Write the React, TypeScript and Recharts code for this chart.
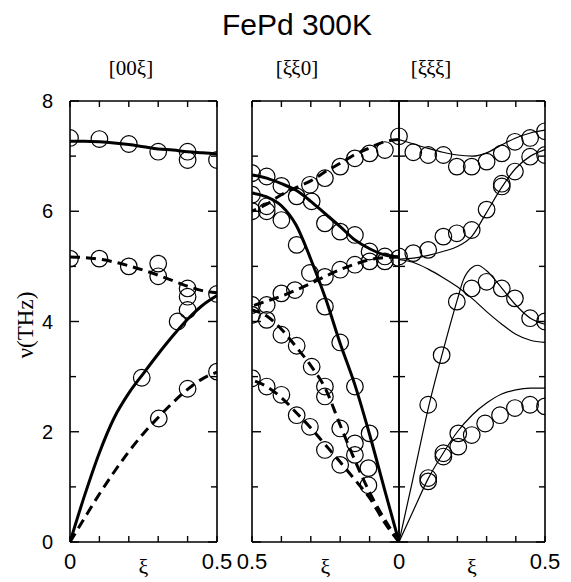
import React from 'react';
import { ComposedChart, Line, Scatter, XAxis, YAxis } from 'recharts';

// ---------- data ----------
const XI = [0, 0.05, 0.1, 0.15, 0.2, 0.25, 0.3, 0.35, 0.4, 0.45, 0.5];
const XI_PEAK = [0, 0.05, 0.1, 0.15, 0.2, 0.22, 0.25, 0.27, 0.3, 0.35, 0.4, 0.45, 0.5];

// [00ξ]
const p1Opt = [7.27, 7.27, 7.26, 7.24, 7.21, 7.17, 7.13, 7.11, 7.08, 7.06, 7.04];
const p1OptDash = [5.17, 5.16, 5.13, 5.08, 5.01, 4.93, 4.84, 4.74, 4.64, 4.56, 4.52];
const p1LA = [0, 0.85, 1.62, 2.25, 2.7, 3.06, 3.41, 3.74, 4.04, 4.29, 4.47];
const p1TA = [0, 0.44, 0.87, 1.27, 1.64, 1.97, 2.26, 2.53, 2.77, 2.96, 3.08];
const p1Circles = [
  [0, 7.33], [0.1, 7.31], [0.2, 7.22], [0.3, 7.08], [0.4, 7.08], [0.4, 6.93], [0.5, 6.93],
  [0, 5.14], [0.1, 5.14], [0.2, 5.0], [0.3, 5.05], [0.3, 4.82], [0.4, 4.6], [0.4, 4.45], [0.5, 4.5],
  [0.244, 2.98], [0.366, 4.0], [0.4, 4.21], [0.302, 2.24], [0.4, 2.78], [0.5, 3.09],
];

// [ξξ0]
const p2OptDash = [7.3, 7.26, 7.15, 7.03, 6.87, 6.72, 6.55, 6.43, 6.3, 6.13, 6.0];
const p2Opt = [5.17, 5.21, 5.32, 5.48, 5.72, 5.95, 6.18, 6.38, 6.5, 6.6, 6.66];
const p2LA = [0, 0.97, 1.95, 2.85, 3.6, 4.42, 5.13, 5.75, 6.1, 6.26, 6.33];
const p2MidDash = [5.17, 5.16, 5.12, 5.04, 4.94, 4.82, 4.69, 4.57, 4.46, 4.37, 4.28];
const p2TA1 = [0, 0.42, 0.9, 1.48, 2.12, 2.78, 3.2, 3.54, 3.86, 4.1, 4.21];
const p2TA2 = [0, 0.36, 0.8, 1.13, 1.45, 1.76, 2.07, 2.35, 2.62, 2.82, 2.94];
const p2Circles = [
  [0.5, 6.69], [0.5, 6.3], [0.5, 6.0], [0.45, 6.63], [0.45, 6.09], [0.45, 6.0], [0.4, 6.46], [0.4, 5.84],
  [0.348, 6.27], [0.348, 5.39], [0.303, 6.48], [0.297, 6.18], [0.252, 6.6], [0.252, 5.78], [0.2, 6.81],
  [0.2, 5.63], [0.15, 6.96], [0.15, 5.57], [0.1, 7.05], [0.1, 5.27], [0.1, 5.09], [0.048, 7.11],
  [0.048, 5.18], [0.048, 5.09], [0, 7.36], [0, 5.15],
  [0.5, 4.3], [0.45, 4.3], [0.4, 4.51], [0.354, 4.57], [0.303, 4.88], [0.252, 4.81], [0.2, 4.94],
  [0.15, 5.03], [0.252, 4.27],
  [0.5, 4.12], [0.45, 4.03], [0.4, 3.76], [0.348, 3.56], [0.297, 3.18], [0.252, 2.82], [0.252, 2.64],
  [0.2, 3.62], [0.15, 2.82], [0.2, 2.06], [0.15, 1.79], [0.15, 1.58], [0.1, 1.97], [0.104, 1.34],
  [0.104, 1.03],
  [0.5, 2.97], [0.45, 2.82], [0.4, 2.67], [0.348, 2.3], [0.303, 2.09], [0.252, 1.67], [0.2, 1.4],
];

// [ξξξ]
const p3A = [7.3, 7.22, 7.14, 7.07, 7.02, 7.0, 7.06, 7.2, 7.33, 7.42, 7.47];
const p3B = [5.13, 5.15, 5.2, 5.27, 5.36, 5.55, 5.98, 6.42, 6.78, 7.0, 7.12];
const p3C = [5.12, 5.07, 4.95, 4.8, 4.63, 4.42, 4.18, 3.96, 3.77, 3.66, 3.62];
const p3D = [0, 1.2, 2.42, 3.45, 4.4, 4.75, 4.98, 5.02, 4.92, 4.62, 4.3, 4.06, 3.95];
const p3E = [0, 0.58, 1.15, 1.6, 2.0, 2.3, 2.52, 2.68, 2.76, 2.79, 2.79];
const p3Circles = [
  [0, 7.36], [0.049, 7.07], [0.1, 7.02], [0.152, 7.02], [0.198, 6.81], [0.249, 6.81], [0.3, 6.9],
  [0.352, 7.05], [0.397, 7.26], [0.449, 7.33], [0.5, 7.45], [0.5, 7.02], [0.449, 6.99], [0.397, 6.72],
  [0.352, 6.45], [0.352, 6.5], [0.3, 6.03], [0.249, 5.66], [0.198, 5.6], [0.152, 5.54], [0.1, 5.3],
  [0.049, 5.24], [0, 5.18],
  [0.249, 4.6], [0.3, 4.72], [0.352, 4.6], [0.397, 4.42], [0.449, 4.06], [0.5, 4.0], [0.198, 4.36],
  [0.146, 3.39], [0.1, 2.49],
  [0.1, 1.16], [0.1, 1.1], [0.152, 1.61], [0.152, 1.55], [0.203, 1.97], [0.203, 1.73], [0.249, 1.94],
  [0.295, 2.15], [0.346, 2.3], [0.397, 2.43], [0.449, 2.49], [0.5, 2.46],
];

const Y_TICKS = [0, 1, 2, 3, 4, 5, 6, 7, 8];
const Y_LABELS: Record<string, string> = { '0': '0', '2': '2', '4': '4', '6': '6', '8': '8' };
const X_TICKS = [0, 0.1, 0.2, 0.25, 0.3, 0.4, 0.5];
const X_LABELS_1: Record<string, string> = { '0': '0', '0.25': 'ξ', '0.5': '0.5' };
const X_LABELS_2: Record<string, string> = { '0': '0', '0.25': 'ξ', '0.5': '0.5' };
const X_LABELS_3: Record<string, string> = { '0.25': 'ξ', '0.5': '0.5' };

const TITLE = 'FePd 300K';
const PANEL_TITLES = ['[00ξ]', '[ξξ0]', '[ξξξ]'];
const Y_TITLE = 'ν(THz)';

// ---------- helpers ----------
type Pt = { x: number; y: number };
const toPts = (xs: number[], ys: number[]): Pt[] => xs.map((x, i) => ({ x, y: ys[i] }));
const toCirc = (pairs: number[][]): Pt[] => pairs.map(([x, y]) => ({ x, y }));

const SANS = '"Liberation Sans", Arial, Helvetica, sans-serif';
const SERIF = '"Liberation Serif", "Times New Roman", serif';
const INK = '#000';

const bottomTick = (labels: Record<string, string>) => (p: any) => {
  const { x, y, payload } = p;
  const lab = labels[String(payload.value)];
  const isXi = String(payload.value) === '0.25';
  return (
    <g>
      {!isXi && <line x1={x} y1={y} x2={x} y2={y - 6} stroke={INK} strokeWidth={1.4} />}
      {lab && (
        <text
          x={x}
          y={isXi ? y + 32 : y + 27}
          textAnchor="middle"
          fontFamily={isXi ? SERIF : SANS}
          fontSize={isXi ? 22 : 22}
          fill={INK}
        >
          {lab}
        </text>
      )}
    </g>
  );
};

const topTick = (p: any) => {
  const { x, y, payload } = p;
  if (String(payload.value) === '0.25') return <g />;
  return <line x1={x} y1={y} x2={x} y2={y + 6} stroke={INK} strokeWidth={1.4} />;
};

const leftTick = (withLabels: boolean) => (p: any) => {
  const { x, y, payload } = p;
  const lab = Y_LABELS[String(payload.value)];
  const len = lab ? 9 : 6;
  return (
    <g>
      <line x1={x} y1={y} x2={x + len} y2={y} stroke={INK} strokeWidth={1.4} />
      {withLabels && lab && (
        <text x={x - 17} y={y + 7} textAnchor="end" fontFamily={SANS} fontSize={20} fill={INK}>
          {lab}
        </text>
      )}
    </g>
  );
};

const rightTick = (p: any) => {
  const { x, y, payload } = p;
  const lab = Y_LABELS[String(payload.value)];
  const len = lab ? 9 : 6;
  return <line x1={x} y1={y} x2={x - len} y2={y} stroke={INK} strokeWidth={1.4} />;
};

const OpenCircle = (p: any) => {
  if (p.cx == null || p.cy == null) return <g />;
  return <circle cx={p.cx} cy={p.cy} r={8.3} fill="none" stroke={INK} strokeWidth={1.2} />;
};

type PanelProps = {
  left: number;
  width: number;
  mLeft: number;
  mRight: number;
  yLeftW: number;
  reversed?: boolean;
  xLabels: Record<string, string>;
  showYLabels?: boolean;
  solid: Pt[][];
  dashed: Pt[][];
  circles: Pt[];
  lineW: number;
};

const axisLine = { stroke: INK, strokeWidth: 1.6 };

function Panel(props: PanelProps) {
  const { left, width, mLeft, mRight, yLeftW, reversed, xLabels, showYLabels, solid, dashed, circles, lineW } = props;
  return (
    <div style={{ position: 'absolute', left, top: 0 }}>
      <ComposedChart width={width} height={582} margin={{ top: 100, right: mRight, bottom: 0, left: mLeft }}>
        <XAxis
          xAxisId="b"
          type="number"
          dataKey="x"
          domain={[0, 0.5]}
          allowDataOverflow
          reversed={reversed}
          ticks={X_TICKS}
          interval={0}
          height={40}
          orientation="bottom"
          tickSize={0}
          tickMargin={0}
          tickLine={false}
          axisLine={axisLine}
          tick={bottomTick(xLabels)}
        />
        <XAxis
          xAxisId="t"
          type="number"
          dataKey="x"
          domain={[0, 0.5]}
          allowDataOverflow
          reversed={reversed}
          ticks={X_TICKS}
          interval={0}
          height={1}
          orientation="top"
          tickSize={0}
          tickMargin={0}
          tickLine={false}
          axisLine={axisLine}
          tick={topTick}
        />
        <YAxis
          yAxisId="l"
          type="number"
          dataKey="y"
          domain={[0, 8]}
          allowDataOverflow
          ticks={Y_TICKS}
          interval={0}
          width={yLeftW}
          orientation="left"
          tickSize={0}
          tickMargin={0}
          tickLine={false}
          axisLine={axisLine}
          tick={leftTick(!!showYLabels)}
        />
        <YAxis
          yAxisId="r"
          type="number"
          dataKey="y"
          domain={[0, 8]}
          allowDataOverflow
          ticks={Y_TICKS}
          interval={0}
          width={1}
          orientation="right"
          tickSize={0}
          tickMargin={0}
          tickLine={false}
          axisLine={axisLine}
          tick={rightTick}
        />
        <Scatter
          xAxisId="b"
          yAxisId="l"
          data={circles}
          dataKey="y"
          shape={OpenCircle}
          isAnimationActive={false}
        />
        {solid.map((d, i) => (
          <Line
            key={'s' + i}
            xAxisId="b"
            yAxisId="l"
            data={d}
            dataKey="y"
            type="monotone"
            stroke={INK}
            strokeWidth={lineW}
            dot={false}
            activeDot={false}
            isAnimationActive={false}
          />
        ))}
        {dashed.map((d, i) => (
          <Line
            key={'d' + i}
            xAxisId="b"
            yAxisId="l"
            data={d}
            dataKey="y"
            type="monotone"
            stroke={INK}
            strokeWidth={lineW}
            strokeDasharray="10 6"
            dot={false}
            activeDot={false}
            isAnimationActive={false}
          />
        ))}
      </ComposedChart>
    </div>
  );
}

export default function App() {
  return (
    <div
      style={{
        position: 'absolute',
        left: 0,
        top: 0,
        width: 571,
        height: 582,
        background: '#fff',
        overflow: 'hidden',
      }}
    >
      <Panel
        left={0}
        width={240}
        mLeft={10}
        mRight={22}
        yLeftW={60}
        xLabels={X_LABELS_1}
        showYLabels
        solid={[toPts(XI, p1Opt), toPts(XI, p1LA)]}
        dashed={[toPts(XI, p1OptDash), toPts(XI, p1TA)]}
        circles={toCirc(p1Circles)}
        lineW={3}
      />
      <Panel
        left={230}
        width={190}
        mLeft={21}
        mRight={20}
        yLeftW={1}
        reversed
        xLabels={X_LABELS_2}
        solid={[toPts(XI, p2Opt), toPts(XI, p2LA)]}
        dashed={[toPts(XI, p2OptDash), toPts(XI, p2MidDash), toPts(XI, p2TA1), toPts(XI, p2TA2)]}
        circles={toCirc(p2Circles)}
        lineW={3}
      />
      <Panel
        left={390}
        width={181}
        mLeft={8}
        mRight={25}
        yLeftW={1}
        xLabels={X_LABELS_3}
        solid={[toPts(XI, p3A), toPts(XI, p3B), toPts(XI, p3C), toPts(XI_PEAK, p3D), toPts(XI, p3E)]}
        dashed={[]}
        circles={toCirc(p3Circles)}
        lineW={1.2}
      />
      <svg
        width={571}
        height={582}
        style={{ position: 'absolute', left: 0, top: 0, pointerEvents: 'none' }}
      >
        <text x={297} y={35} textAnchor="middle" fontFamily={SANS} fontSize={30} fill={INK}>
          {TITLE}
        </text>
        <text x={131} y={75} textAnchor="middle" fontFamily={SERIF} fontSize={21} fill={INK}>
          {PANEL_TITLES[0]}
        </text>
        <text x={297} y={75} textAnchor="middle" fontFamily={SERIF} fontSize={21} fill={INK}>
          {PANEL_TITLES[1]}
        </text>
        <text x={431} y={75} textAnchor="middle" fontFamily={SERIF} fontSize={21} fill={INK}>
          {PANEL_TITLES[2]}
        </text>
        <text
          transform="translate(33,325) rotate(-90)"
          textAnchor="middle"
          fontFamily={SERIF}
          fontSize={23}
          fill={INK}
        >
          {Y_TITLE}
        </text>
      </svg>
    </div>
  );
}
